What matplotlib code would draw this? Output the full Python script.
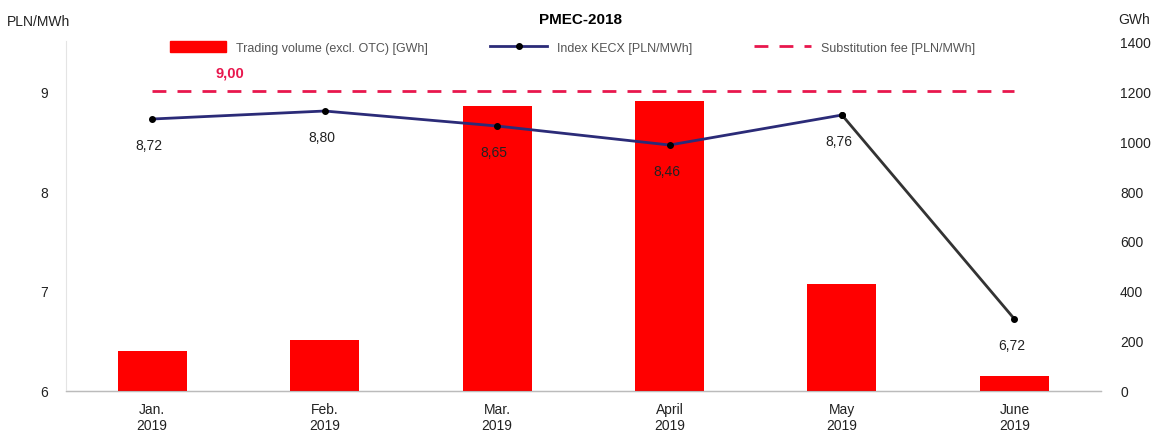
import matplotlib.pyplot as plt
import numpy as np
from matplotlib.patches import Patch
from matplotlib.lines import Line2D

plt.rcParams['font.family'] = ['Liberation Sans', 'DejaVu Sans']

months = ['Jan.\n2019', 'Feb.\n2019', 'Mar.\n2019', 'April\n2019', 'May\n2019', 'June\n2019']
volume_gwh = [160, 205, 1140, 1160, 428, 60]
index_kecx = [8.72, 8.80, 8.65, 8.46, 8.76, 6.72]
index_labels = ['8,72', '8,80', '8,65', '8,46', '8,76', '6,72']
substitution_fee = 9.00

x = np.arange(len(months))

fig = plt.figure(figsize=(11.61, 4.35), dpi=100)
ax = fig.add_axes([0.0568, 0.0989, 0.8912, 0.8045])
ax2 = ax.twinx()

# volume bars on the right-hand axis
ax2.bar(x, volume_gwh, width=0.4, color='#ff0000', zorder=1)
ax2.set_ylim(0, 1400)
ax2.set_yticks(range(0, 1401, 200))

# price axis on the left, drawn above the bars
ax.set_zorder(ax2.get_zorder() + 1)
ax.patch.set_visible(False)
ax.set_ylim(6, 9.5)
ax.set_yticks([6, 7, 8, 9])
ax.set_xlim(-0.5, 5.5)
ax.set_xticks(x)
ax.set_xticklabels(months)

ax.plot(x[:5], index_kecx[:5], color='#2b2b78', lw=2, marker='o', ms=4,
        mfc='black', mec='black')
ax.plot(x[4:], index_kecx[4:], color='#333333', lw=2, marker='o', ms=4,
        mfc='black', mec='black')
ax.plot([x[0], x[-1]], [substitution_fee, substitution_fee], color='#e8174d',
        lw=2, dashes=(5, 4))
ax.text(x[0] + 0.45, substitution_fee + 0.12, '9,00', color='#e8174d',
        fontsize=10.5, fontweight='bold', ha='center', va='bottom')

for xi, yi, lab in zip(x, index_kecx, index_labels):
    ax.annotate(lab, (xi, yi), xytext=(-2, -14), textcoords='offset points',
                ha='center', va='top', fontsize=10, color='#222222')

for a in (ax, ax2):
    for s in ('top', 'right', 'left'):
        a.spines[s].set_visible(False)
    a.tick_params(length=0, labelsize=10, colors='#222222', pad=8)
ax.spines['bottom'].set_color('#bbbbbb')
ax.spines['left'].set_visible(True)
ax.spines['left'].set_color('#e4e4e4')
ax.tick_params(axis='y', pad=13)
ax2.tick_params(axis='y', pad=14)

handles = [Patch(color='#ff0000'),
           Line2D([], [], color='#2b2b78', lw=2, marker='o', ms=4, mfc='black', mec='black'),
           Line2D([], [], color='#e8174d', lw=2, dashes=(5, 4))]
labels = ['Trading volume (excl. OTC) [GWh]', 'Index KECX [PLN/MWh]', 'Substitution fee [PLN/MWh]']
fig.legend(handles, labels, loc='center', bbox_to_anchor=(0.493, 0.888), ncol=3,
           frameon=False, fontsize=9, handlelength=4.5, columnspacing=5,
           labelcolor='#555555', handleheight=0.9)

fig.text(0.5, 0.955, 'PMEC-2018', ha='center', va='center', fontsize=11, fontweight='bold')
fig.text(0.033, 0.95, 'PLN/MWh', ha='center', va='center', fontsize=10, color='#222222')
fig.text(0.977, 0.955, 'GWh', ha='center', va='center', fontsize=10, color='#222222')

fig.savefig('out.png', dpi=100)
